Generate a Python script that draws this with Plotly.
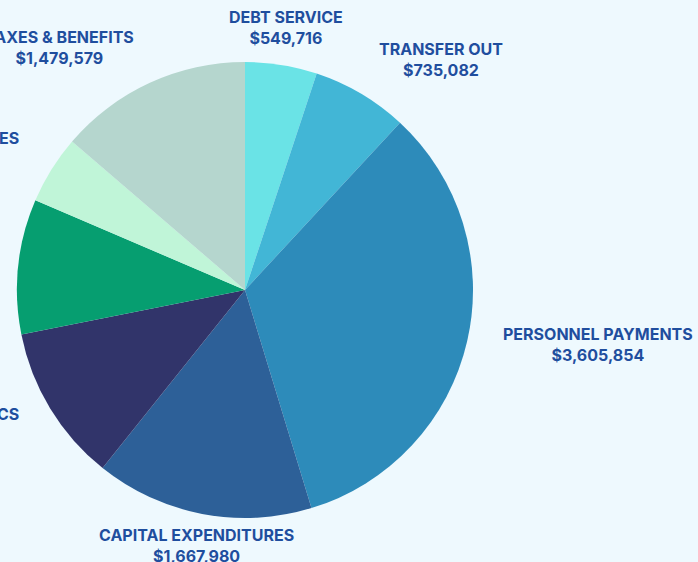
import plotly.graph_objects as go

categories = ["DEBT SERVICE", "TRANSFER OUT", "PERSONNEL PAYMENTS", "CAPITAL EXPENDITURES",
              "OPERATIONS & LOGISTICS", "CONTRACTUAL SERVICES", "MATERIALS & SUPPLIES",
              "TAXES & BENEFITS"]
values = [549716, 735082, 3605854, 1667980, 1203000, 1032000, 525000, 1479579]
colors = ["#6AE3E6", "#42B6D6", "#2D8BBA", "#2D6098", "#31346A", "#069E70", "#C0F5D8", "#B5D6CE"]

W, H = 698, 562
bg = "#EEF9FE"
txt = "#1F4E9E"

# label anchor positions in pixels (x, y, xanchor)
label_pos = {
    "DEBT SERVICE": (286, 27, "center"),
    "TRANSFER OUT": (441, 60, "center"),
    "PERSONNEL PAYMENTS": (598, 344, "center"),
    "CAPITAL EXPENDITURES": (196, 545, "center"),
    "OPERATIONS & LOGISTICS": (21, 424, "right"),
    "CONTRACTUAL SERVICES": (-300, 300, "right"),
    "MATERIALS & SUPPLIES": (21, 148, "right"),
    "TAXES & BENEFITS": (59, 48, "center"),
}

cx, cy, r = 245, 290, 228
fig = go.Figure(go.Pie(
    labels=categories, values=values, sort=False, direction="clockwise", rotation=0,
    marker=dict(colors=colors, line=dict(width=0)), textinfo="none", hoverinfo="label+value",
    domain=dict(x=[(cx - r) / W, (cx + r) / W], y=[1 - (cy + r) / H, 1 - (cy - r) / H]),
    showlegend=False,
))

for c, v in zip(categories, values):
    px, py, xa = label_pos[c]
    fig.add_annotation(
        x=px / W, y=1 - py / H, xref="paper", yref="paper", xanchor=xa, yanchor="middle",
        text=f"<b>{c}<br>${v:,}</b>", showarrow=False, align="center",
        font=dict(family="Inter, Roboto, sans-serif", size=16, color=txt),
    )

fig.update_layout(
    width=W, height=H, margin=dict(l=0, r=0, t=0, b=0),
    paper_bgcolor=bg, plot_bgcolor=bg,
)
fig.write_html(
    "out.html",
    config={"displayModeBar": False},
    post_script="document.body.style.margin='0';document.body.style.overflow='hidden';"
                "document.body.style.background='" + bg + "';",
)
